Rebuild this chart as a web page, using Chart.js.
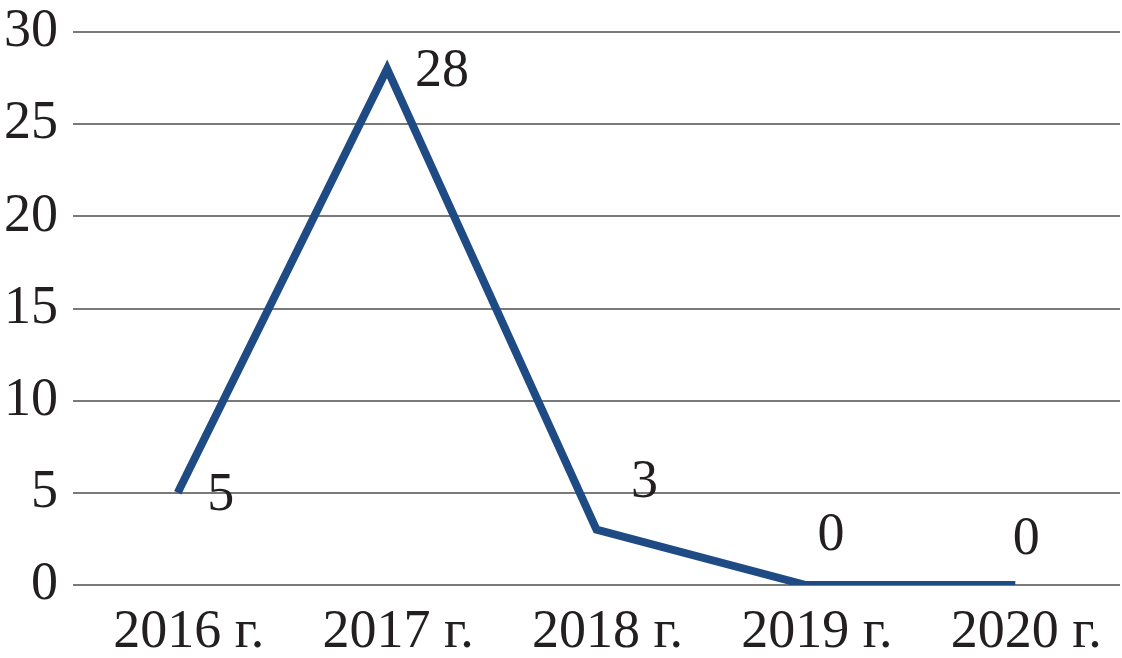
<!DOCTYPE html>
<html>
<head>
<meta charset="utf-8">
<script src="https://cdn.jsdelivr.net/npm/chart.js@4.4.0/dist/chart.umd.min.js"></script>
<style>
  html, body { margin: 0; padding: 0; background: #fff; }
  #wrap { width: 1122px; height: 658px; position: relative; }
</style>
</head>
<body>
<div id="wrap"><canvas id="myChart"></canvas></div>
<script>
const years = ["2016 г.", "2017 г.", "2018 г.", "2019 г.", "2020 г."];
const counts = [5, 28, 3, 0, 0];
const yTicks = [0, 5, 10, 15, 20, 25, 30];

const textColor = "#231f20";
const lineColor = "#1f4b85";
const fontFamily = "'Liberation Serif', 'Times New Roman', serif";

// where each value label sits relative to its point (px)
const labelOffsets = [
  [43, 3],
  [55, 3],
  [48, -47],
  [25, -49],
  [11, -45],
];

const valueLabels = {
  id: "valueLabels",
  afterDatasetsDraw: (chart) => {
    const ctx = chart.ctx;
    const meta = chart.getDatasetMeta(0);
    ctx.save();
    ctx.fillStyle = textColor;
    ctx.font = `54px ${fontFamily}`;
    ctx.textAlign = "center";
    ctx.textBaseline = "middle";
    meta.data.forEach((pt, i) => {
      const [dx, dy] = labelOffsets[i];
      ctx.fillText(String(counts[i]), pt.x + dx, pt.y + dy);
    });
    ctx.restore();
  },
};

const config = {
  type: "line",
  data: {
    labels: years,
    datasets: [
      {
        data: counts,
        borderColor: lineColor,
        backgroundColor: lineColor,
        borderWidth: 8,
        borderCapStyle: "butt",
        borderJoinStyle: "miter",
        tension: 0,
        pointRadius: 0,
        fill: false,
      },
    ],
  },
  options: {
    responsive: true,
    maintainAspectRatio: false,
    animation: false,
    layout: {
      padding: { left: 2, right: 2, top: 0, bottom: 0 },
    },
    plugins: {
      legend: { display: false },
      tooltip: { enabled: false },
    },
    scales: {
      x: {
        offset: true,
        grid: { display: false, drawTicks: false },
        border: { display: false },
        afterFit: (axis) => {
          axis.height = 73;
        },
        ticks: {
          color: textColor,
          font: { family: fontFamily, size: 54, lineHeight: 1 },
          padding: 21,
          labelOffset: 11,
          maxRotation: 0,
        },
      },
      y: {
        min: 0,
        max: 30,
        afterBuildTicks: (axis) => {
          axis.ticks = yTicks.map((v) => ({ value: v }));
        },
        afterFit: (axis) => {
          axis.width = 71;
          axis.paddingTop = 32;
          axis.paddingBottom = 0;
        },
        grid: { color: "#7a7a7a", lineWidth: 2, drawTicks: false },
        border: { display: false },
        ticks: {
          color: textColor,
          font: { family: fontFamily, size: 54, lineHeight: 1 },
          padding: 15,
        },
      },
    },
  },
  plugins: [valueLabels],
};

new Chart(document.getElementById("myChart"), config);
</script>
</body>
</html>
